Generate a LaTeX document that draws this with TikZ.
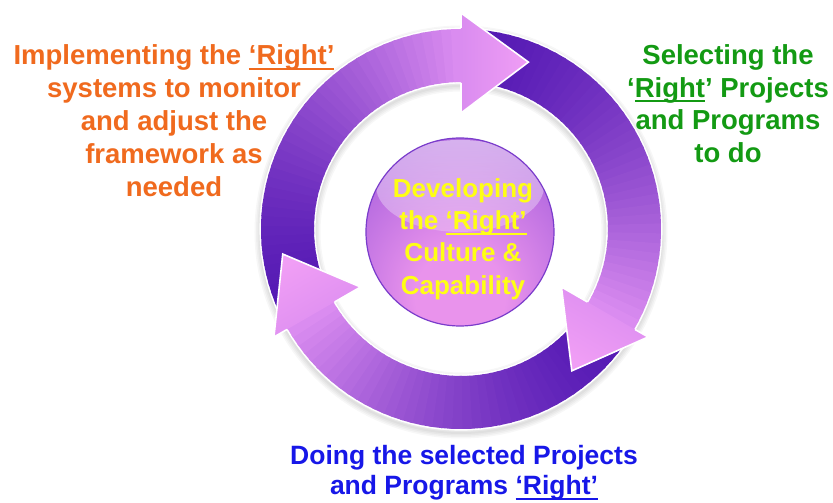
\documentclass[tikz,border=0pt]{standalone}
\usepackage{fontspec}
\setmainfont{Liberation Sans}
\usepackage{tikz}
\usetikzlibrary{fadings}

\definecolor{arcdark}{HTML}{561AB4}
\definecolor{arclite}{HTML}{DA8CF0}
\definecolor{headtip}{HTML}{F09EF5}
\definecolor{orbedge}{HTML}{7A3CCB}
\definecolor{orbmid}{HTML}{A45DDC}
\definecolor{orbpink}{HTML}{E993EC}
\definecolor{txtorange}{HTML}{F06A1E}
\definecolor{txtgreen}{HTML}{139A13}
\definecolor{txtblue}{HTML}{1717E8}
\definecolor{txtyellow}{HTML}{FFFF14}

\pgfdeclareradialshading{orbshade}{\pgfpoint{0bp}{-20bp}}{color(0bp)=(orbpink); color(12bp)=(orbpink); color(40bp)=(orbmid); color(60bp)=(orbedge); color(80bp)=(orbedge)}
\tikzfading[name=gloss, top color=transparent!50, bottom color=transparent!100]

\newcommand\undl[1]{\setbox0\hbox{#1}\rlap{\rule[-5pt]{\wd0}{1.8pt}}\box0}

\tikzset{
  lbl/.style={align=center, inner sep=0pt, font=\bfseries\fontsize{27.5}{33}\selectfont},
  orb/.style={circle, minimum size=188pt, inner sep=0pt, draw=orbedge, line width=1.2pt,
    shade, shading=orbshade,
    path picture={\fill[white, path fading=gloss] ([yshift=46pt]path picture bounding box.center) ellipse[x radius=84pt, y radius=46pt];}}
}

\begin{document}
\begin{tikzpicture}[x=1pt,y=1pt]
        \fill[white] (-461,-274) rectangle (372,229);
        \useasboundingbox (-461,-274) rectangle (372,229);

        \foreach \w in {2,5,8,11}{
            \draw[black, opacity=.03, line width=\w pt] (0,-3) circle[radius=201];
            \draw[black, opacity=.03, line width=\w pt] (0,-3) circle[radius=146];
        }

        \foreach \a/\b in {205/90,85/-30,-35/-150}{
            \draw[white, line width=3.2pt] (\a:147) arc[start angle=\a, end angle=\b, radius=147]
                -- (\b:200) arc[start angle=\b, end angle=\a, radius=200] -- cycle;
            \foreach \i in {0,...,39}{
                \pgfmathsetmacro\s{\a+(\b-\a)*\i/40}
                \pgfmathsetmacro\e{\a+(\b-\a)*(\i+1.3)/40}
                \pgfmathsetmacro\p{100*(\i/39)^1.5}
                \fill[arclite!\p!arcdark] (\s:147) arc[start angle=\s, end angle=\e, radius=147]
                    -- (\e:200) arc[start angle=\e, end angle=\s, radius=200] -- cycle;
            }
        }

        \foreach \b in {90,-30,-150}{
            \pgfmathsetmacro\t{\b-22}
            \pgfmathsetmacro\g{\b-180}
            \shade[bottom color=arclite, top color=headtip, shading angle=\g]
                (\b:116) -- (\t:180) -- (\b:216) -- cycle;
            \draw[white, line width=1.6pt] (\b:146) -- (\b:116) -- (\t:180) -- (\b:216) -- (\b:201);
        }

        \node[orb] (core) at (-1,-3) {};
        \node[lbl, text=txtyellow, font=\bfseries\fontsize{26}{32.3}\selectfont] (coretext) at (2,-10)
            {Developing\\the \undl{‘Right’}\\Culture \&\\Capability};

        \node[lbl, text=txtorange] (implement) at (-287,108)
            {Implementing the \undl{‘Right’}\\systems to monitor\\and adjust the\\framework as\\needed};
        \node[lbl, text=txtgreen, font=\bfseries\fontsize{27.5}{32.5}\selectfont] (select) at (267,125.5)
            {Selecting the\\‘\undl{Right}’ Projects\\and Programs\\to do};
        \node[lbl, text=txtblue, font=\bfseries\fontsize{26.5}{30}\selectfont] (doing) at (3,-244)
            {Doing the selected Projects\\and Programs \undl{‘Right’}};
    \end{tikzpicture}
\end{document}
